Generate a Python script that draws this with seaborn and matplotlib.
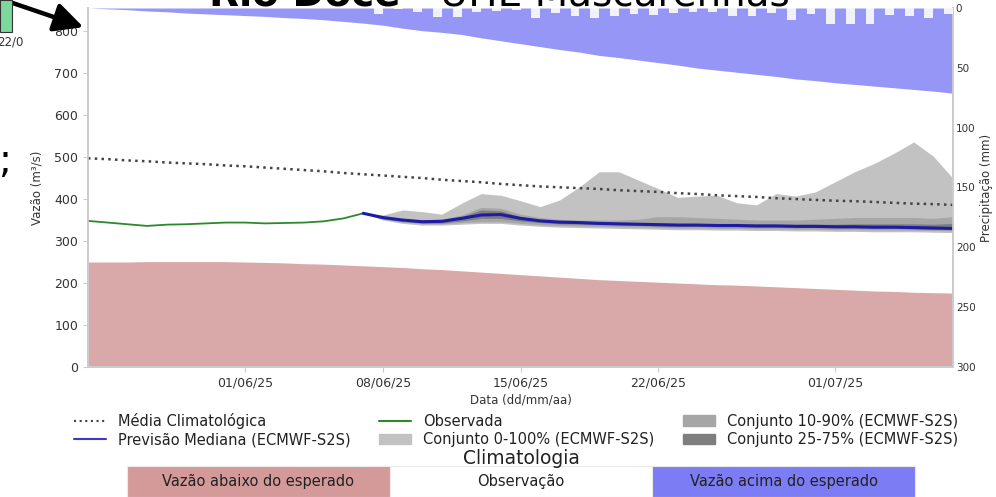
import numpy as np
import pandas as pd
import matplotlib
matplotlib.use("Agg")
import matplotlib.pyplot as plt
import matplotlib.dates as mdates
from matplotlib.lines import Line2D
from matplotlib.patches import Patch, Rectangle, FancyArrowPatch
import seaborn as sns

# ---------------- data ----------------
start_date = "2025-05-24"
end_date = "2025-07-07"
obs_end = "2025-06-07"

# climatological mean (m3/s), daily 24/05 -> 07/07
clim_mean = [497, 495, 492, 490, 487, 485, 483, 480, 478, 475, 472, 469, 466, 462, 459,
             456, 453, 450, 446, 443, 440, 436, 433, 430, 428, 426, 424, 421, 419, 417,
             414, 412, 409, 407, 405, 402, 400, 398, 396, 395, 393, 391, 389, 388, 386]
# upper climatological limit (above expected)
clim_upper = [855, 853, 851, 848, 846, 843, 841, 839, 837, 835, 832, 830, 827, 823, 819,
              814, 807, 801, 797, 792, 784, 777, 770, 763, 756, 750, 742, 737, 731, 725,
              719, 712, 707, 702, 697, 692, 686, 682, 677, 673, 669, 665, 661, 657, 652]
# lower climatological limit (below expected)
clim_lower = [250, 250, 250, 251, 251, 251, 251, 251, 250, 249, 248, 246, 245, 243, 241,
              239, 237, 234, 232, 229, 226, 223, 220, 217, 214, 211, 208, 206, 204, 202,
              200, 198, 196, 195, 193, 191, 189, 187, 185, 183, 181, 180, 178, 177, 176]

# observed flow 24/05 -> 07/06
observed = [348, 344, 340, 336, 339, 340, 342, 344, 344, 342, 343, 344, 347, 354, 366]

# ensemble forecast 07/06 -> 07/07
fc_median = [366, 356, 350, 346, 347, 354, 362, 363, 354, 348, 345, 344, 342, 341, 340, 339,
             338, 338, 337, 337, 336, 336, 335, 335, 334, 334, 333, 333, 332, 331, 330]
fc_p0 = [366, 350, 342, 338, 338, 340, 342, 342, 338, 335, 333, 332, 331, 330, 329, 328,
         327, 327, 326, 326, 325, 325, 324, 324, 323, 323, 322, 322, 322, 321, 320]
fc_p100 = [366, 362, 374, 370, 364, 390, 413, 409, 396, 382, 398, 429, 465, 465, 445, 425,
           404, 407, 409, 391, 386, 413, 407, 417, 441, 465, 485, 509, 536, 502, 449]
fc_p10 = [366, 352, 345, 341, 341, 344, 346, 346, 342, 339, 337, 336, 335, 334, 333, 332,
          331, 331, 330, 330, 329, 329, 328, 328, 327, 327, 326, 326, 326, 325, 324]
fc_p90 = [366, 358, 354, 350, 352, 362, 380, 378, 364, 356, 352, 350, 350, 350, 352, 358,
          358, 356, 354, 352, 350, 350, 350, 352, 354, 356, 356, 356, 356, 354, 358]
fc_p25 = [366, 353, 347, 343, 343, 348, 354, 354, 348, 344, 341, 340, 339, 338, 337, 336,
          335, 335, 334, 334, 333, 333, 332, 332, 331, 331, 330, 330, 329, 328, 327]
fc_p75 = [366, 357, 352, 348, 350, 358, 374, 372, 358, 351, 348, 346, 345, 344, 343, 343,
          342, 342, 341, 341, 340, 340, 340, 340, 340, 341, 341, 341, 341, 340, 342]

# precipitation (mm), daily 24/05 -> 07/07
precip = [0, 0, 0, 0, 0, 0, 0, 0, 0, 0, 0, 0, 0, 0, 0,
          5.3, 1.0, 3.6, 7.2, 7.8, 3.6, 2.5, 1.7, 8.6, 4.4, 6.7, 8.6, 7.0, 5.0, 5.7,
          4.2, 3.5, 3.6, 6.4, 6.4, 4.0, 10.3, 5.3, 13.0, 13.0, 13.0, 6.0, 6.4, 8.3, 5.0]

xtick_dates = ["2025-06-01", "2025-06-08", "2025-06-15", "2025-06-22", "2025-07-01"]
legend_labels = ["Média Climatológica", "Previsão Mediana (ECMWF-S2S)", "Observada",
                 "Conjunto 0-100% (ECMWF-S2S)", "Conjunto 10-90% (ECMWF-S2S)",
                 "Conjunto 25-75% (ECMWF-S2S)"]
table_labels = ["Vazão abaixo do esperado", "Observação", "Vazão acima do esperado"]

# ---------------- style ----------------
sns.set_theme(style="ticks", rc={
    "axes.edgecolor": "#cccccc",
    "xtick.color": "#cccccc",
    "ytick.color": "#cccccc",
    "xtick.labelcolor": "#333333",
    "ytick.labelcolor": "#333333",
    "axes.labelcolor": "#333333",
    "text.color": "#222222",
})
plt.rcParams["font.family"] = ["DejaVu Sans"]

dates = pd.date_range(start_date, end_date, freq="D")
obs_dates = pd.date_range(start_date, obs_end, freq="D")
fc_dates = pd.date_range(obs_end, end_date, freq="D")

df = pd.DataFrame({"date": dates, "mean": clim_mean, "upper": clim_upper,
                   "lower": clim_lower, "precip": precip})
df_obs = pd.DataFrame({"date": obs_dates, "obs": observed})
df_fc = pd.DataFrame({"date": fc_dates, "median": fc_median})

W, H = 996, 497
fig = plt.figure(figsize=(W / 100, H / 100), dpi=100)
ax = fig.add_axes([88 / W, 1 - 367 / H, (953 - 88) / W, (367 - 8) / H])

YTOP = 855
blue_fill = "#9696f6"
red_fill = "#d9a8a8"

ax.fill_between(df["date"], df["upper"], YTOP, color=blue_fill, lw=0, zorder=1)
ax.fill_between(df["date"], 0, df["lower"], color=red_fill, lw=0, zorder=1)

ax.fill_between(fc_dates, fc_p0, fc_p100, color="#c2c2c2", lw=0, zorder=2)
ax.fill_between(fc_dates, fc_p10, fc_p90, color="#a6a6a6", lw=0, zorder=3)
ax.fill_between(fc_dates, fc_p25, fc_p75, color="#7e7e7e", lw=0, zorder=4)

sns.lineplot(data=df, x="date", y="mean", ax=ax, color="#444444", lw=1.8,
             linestyle=(0, (1, 1.7)), zorder=5, legend=False)
sns.lineplot(data=df_obs, x="date", y="obs", ax=ax, color="#2a8a2a", lw=1.3,
             zorder=6, legend=False)
sns.lineplot(data=df_fc, x="date", y="median", ax=ax, color="#1c1ca4", lw=2.2,
             zorder=7, legend=False)

ax.set_xlim(pd.Timestamp(start_date), pd.Timestamp(end_date))
ax.set_ylim(0, YTOP)
ax.set_yticks(np.arange(0, 801, 100))
ax.set_xticks(pd.to_datetime(xtick_dates))
ax.xaxis.set_major_formatter(mdates.DateFormatter("%d/%m/%y"))
ax.tick_params(axis="both", labelsize=9, length=3.5, width=0.8)
ax.set_xlabel("Data (dd/mm/aa)", fontsize=8.5, labelpad=3)
ax.set_ylabel("Vazão (m³/s)", fontsize=8.5, labelpad=8)
ax.spines["top"].set_visible(False)

# precipitation on inverted secondary axis
ax2 = ax.twinx()
ax2.bar(df["date"], df["precip"], width=-0.45, align="edge", color="#fafafc",
        alpha=0.92, lw=0, zorder=8)
ax2.set_ylim(300, 0)
ax2.set_yticks(np.arange(0, 301, 50))
ax2.tick_params(axis="y", labelsize=7.5, length=0, pad=2)
ax2.set_ylabel("Precipitação (mm)", fontsize=8.5, labelpad=3)
ax2.spines["top"].set_visible(False)
ax2.set_xlim(pd.Timestamp(start_date), pd.Timestamp(end_date))

# legend
handles = [
    Line2D([], [], color="#444444", lw=1.5, linestyle=(0, (1, 1.7))),
    Line2D([], [], color="#3a3ac8", lw=1.5),
    Line2D([], [], color="#2a8a2a", lw=1.5),
    Patch(color="#c2c2c2"),
    Patch(color="#a6a6a6"),
    Patch(color="#7e7e7e"),
]
fig.legend(handles, legend_labels, ncol=3, mode="expand", frameon=False,
           bbox_to_anchor=(64 / W, 1 - 452 / H, (968 - 64) / W, 44 / H),
           loc="center", fontsize=10.5, handlelength=2.2, handletextpad=0.8,
           labelspacing=0.25, borderpad=0.2)

fig.text(521 / W, 1 - 458 / H, "Climatologia", ha="center", va="center",
         fontsize=13.5, color="#222222")

# climatology table
axt = fig.add_axes([127 / W, 0, (915 - 127) / W, 31 / H])
axt.axis("off")
tbl = axt.table(cellText=[table_labels],
                cellColours=[["#d49a9a", "#ffffff", "#7c7cf4"]],
                cellLoc="center", bbox=[0, 0, 1, 1])
tbl.auto_set_font_size(False)
tbl.set_fontsize(10.5)
for (r, c), cell in tbl.get_celld().items():
    cell.set_edgecolor("#eaeaea")
    cell.set_linewidth(0.8)
    cell.get_text().set_color("#222222")

# title (cropped at the top in the reference)
fig.text(401 / W, 1 - 6 / H, "Rio Doce", ha="right", va="baseline",
         fontsize=28, fontweight="bold", color="black")
fig.text(401 / W, 1 - 6 / H, " - UHE Mascarenhas", ha="left", va="baseline",
         fontsize=28, color="black")

# screenshot artefacts: arrow, green box, text fragments
fig.patches.append(Rectangle((0, 1 - 32 / H), 12 / W, 32 / H, transform=fig.transFigure,
                             facecolor="#7dd89b", edgecolor="#333333", lw=0.8))
fig.text(-3 / W, 1 - 46 / H, "22/0", ha="left", va="baseline", fontsize=8.5,
         color="#333333")
fig.text(-2 / W, 1 - 172 / H, ";", ha="left", va="baseline", fontsize=28,
         color="black")
fig.add_artist(FancyArrowPatch(
    (-2 / W, 1 + 2 / H), (86 / W, 1 - 28 / H), transform=fig.transFigure,
    arrowstyle="-|>,head_length=0.8,head_width=0.4", mutation_scale=22,
    color="black", lw=3.2))

fig.savefig("out.png", dpi=100)
